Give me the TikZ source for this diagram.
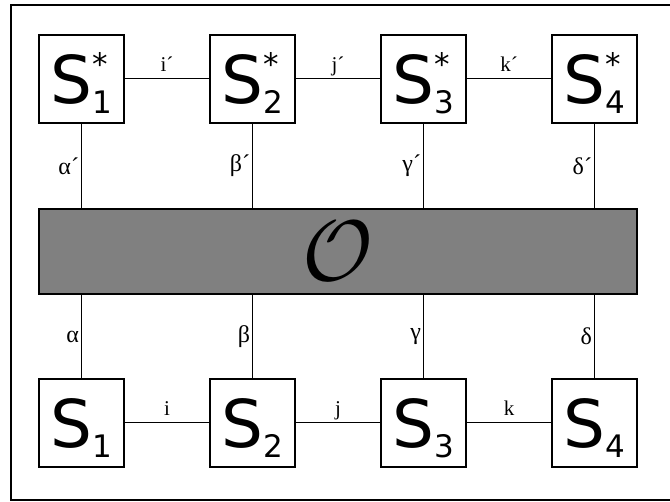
\RequirePackage{fix-cm}
\documentclass[tikz,border=0pt]{standalone}
\usepackage{fontspec}
\usepackage{amsmath}
\newfontfamily\djv{DejaVu Sans}
\newfontfamily\lbf{Liberation Serif}
\newcommand{\site}[2]{{\djv\fontsize{66}{66}\selectfont S}{\djv\fontsize{31}{31}\selectfont\rlap{\raisebox{28pt}{#2}}\raisebox{-10pt}{#1}}}

\begin{document}
\begin{tikzpicture}[x=1pt,y=1pt,
  sbox/.style={draw,line width=1.5pt,fill=white,minimum width=85pt,minimum height=88pt,inner sep=0pt,text height=49pt,text depth=0pt},
  bond/.style={line width=1pt},
  hlbl/.style={font=\lbf\fontsize{21}{21}\selectfont,inner sep=2pt,text depth=0pt,above=5pt},
  vlbl/.style={font=\lbf\fontsize{24}{24}\selectfont,inner sep=2pt,left}]
\useasboundingbox (0,0) rectangle (670,502);
\draw[line width=1.5pt] (11,2) rectangle (671,497);

\node[draw,line width=1.5pt,fill=gray,minimum width=598pt,minimum height=85pt,inner sep=0pt] (op) at (338,250.5) {\fontsize{86}{86}\selectfont$\mathcal{O}$};

% conjugate row
\node[sbox] (s1s) at (81.5,423) {\site{1}{*}};
\node[sbox] (s2s) at (252.5,423) {\site{2}{*}};
\node[sbox] (s3s) at (423.5,423) {\site{3}{*}};
\node[sbox] (s4s) at (594.5,423) {\site{4}{*}};

% lower row
\node[sbox] (s1) at (81.5,79) {\site{1}{}};
\node[sbox] (s2) at (252.5,79) {\site{2}{}};
\node[sbox] (s3) at (423.5,79) {\site{3}{}};
\node[sbox] (s4) at (594.5,79) {\site{4}{}};

\draw[bond] (s1s) -- node[hlbl] {i´} (s2s);
\draw[bond] (s2s) -- node[hlbl] {j´} (s3s);
\draw[bond] (s3s) -- node[hlbl] {k´} (s4s);

\draw[bond] (s1) -- node[hlbl] {i} (s2);
\draw[bond] (s2) -- node[hlbl] {j} (s3);
\draw[bond] (s3) -- node[hlbl] {k} (s4);

\draw[bond] (s1s.south) -- node[vlbl] {α´} (s1s.south |- op.north);
\draw[bond] (s2s.south) -- node[vlbl] {β´} (s2s.south |- op.north);
\draw[bond] (s3s.south) -- node[vlbl] {γ´} (s3s.south |- op.north);
\draw[bond] (s4s.south) -- node[vlbl] {δ´} (s4s.south |- op.north);

\draw[bond] (op.south -| s1.north) -- node[vlbl] {α} (s1.north);
\draw[bond] (op.south -| s2.north) -- node[vlbl] {β} (s2.north);
\draw[bond] (op.south -| s3.north) -- node[vlbl] {γ} (s3.north);
\draw[bond] (op.south -| s4.north) -- node[vlbl] {δ} (s4.north);
\end{tikzpicture}
\end{document}
